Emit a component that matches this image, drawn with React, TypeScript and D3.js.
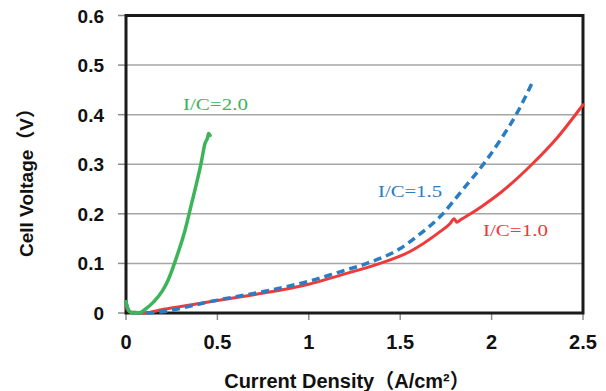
import React from "react";
import * as d3 from "d3";

// I/C = 1.0 (red, solid)
const icOneX = [0, 0.02, 0.1, 0.2, 0.3, 0.5, 0.7, 0.9, 1.0, 1.17, 1.39, 1.554, 1.718, 1.772, 1.795, 1.81, 1.83, 1.88, 1.95, 2.05, 2.21, 2.36, 2.5];
const icOneY = [0.012, 0.002, 0, 0.007, 0.013, 0.025, 0.037, 0.05, 0.058, 0.076, 0.1, 0.124, 0.164, 0.18, 0.19, 0.183, 0.188, 0.199, 0.216, 0.243, 0.296, 0.354, 0.42];

// I/C = 1.5 (blue, dashed)
const icOneHalfX = [0, 0.02, 0.1, 0.5, 0.9, 1.0, 1.17, 1.317, 1.5, 1.6, 1.72, 1.845, 1.955, 2.046, 2.137, 2.228];
const icOneHalfY = [0.02, 0.003, 0, 0.026, 0.055, 0.064, 0.083, 0.1, 0.13, 0.157, 0.195, 0.25, 0.3, 0.348, 0.402, 0.469];

// I/C = 2.0 (green, solid)
const icTwoX = [0, 0.015, 0.04, 0.08, 0.1, 0.15, 0.2, 0.23, 0.277, 0.323, 0.359, 0.39, 0.414, 0.432, 0.445, 0.452, 0.46];
const icTwoY = [0.023, 0.005, 0, 0.001, 0.006, 0.022, 0.045, 0.066, 0.113, 0.167, 0.221, 0.268, 0.308, 0.342, 0.352, 0.362, 0.358];

const xTicks = [0, 0.5, 1, 1.5, 2, 2.5];
const xTickLabels = ["0", "0.5", "1", "1.5", "2", "2.5"];
const yTicks = [0, 0.1, 0.2, 0.3, 0.4, 0.5, 0.6];
const yTickLabels = ["0", "0.1", "0.2", "0.3", "0.4", "0.5", "0.6"];

const W = 606;
const H = 391;
const plot = { left: 126, right: 583, top: 15.5, bottom: 313 };

const x = d3.scaleLinear().domain([0, 2.5]).range([plot.left, plot.right]);
const y = d3.scaleLinear().domain([0, 0.6]).range([plot.bottom, plot.top]);

const line = d3
  .line<[number, number]>()
  .x((d) => x(d[0]))
  .y((d) => y(d[1]))
  .curve(d3.curveMonotoneX);

const zip = (xs: number[], ys: number[]): [number, number][] => xs.map((v, i) => [v, ys[i]]);

const series = [
  { name: "I/C=1.0", pts: zip(icOneX, icOneY), color: "#ee3a3a", dash: undefined as string | undefined, width: 3 },
  { name: "I/C=1.5", pts: zip(icOneHalfX, icOneHalfY), color: "#2a7cc3", dash: "8,5", width: 3.5 },
  { name: "I/C=2.0", pts: zip(icTwoX, icTwoY), color: "#3db45a", dash: undefined, width: 3.5 },
];

const labels = [
  { text: "I/C=2.0", x: 183, y: 109.5, len: 65, color: "#3db45a" },
  { text: "I/C=1.5", x: 378, y: 196.5, len: 64, color: "#2a7cc3" },
  { text: "I/C=1.0", x: 483, y: 236, len: 65, color: "#ee3a3a" },
];

const sans = "'Liberation Sans', Arial, 'Noto Sans CJK JP', sans-serif";
const serif = "'Liberation Serif', 'DejaVu Serif', serif";

export default function App() {
  return (
    <svg width={W} height={H} style={{ position: "absolute", left: 0, top: 0, background: "#fff" }}>
      {/* grid */}
      {yTicks.map((t) => (
        <line key={"g" + t} x1={plot.left} x2={plot.right} y1={y(t)} y2={y(t)} stroke="#a6a6a6" strokeWidth={1.5} />
      ))}
      {/* y ticks */}
      {yTicks.map((t) => (
        <line key={"yt" + t} x1={plot.left - 8} x2={plot.left} y1={y(t)} y2={y(t)} stroke="#8c8c8c" strokeWidth={1.5} />
      ))}
      {/* x ticks */}
      {xTicks.map((t) => (
        <line key={"xt" + t} x1={x(t)} x2={x(t)} y1={plot.bottom} y2={plot.bottom + 7} stroke="#8c8c8c" strokeWidth={1.5} />
      ))}
      {/* frame */}
      <rect
        x={plot.left}
        y={plot.top}
        width={plot.right - plot.left}
        height={plot.bottom - plot.top}
        fill="none"
        stroke="#1a1a1a"
        strokeWidth={3}
      />
      {/* series */}
      {series.map((s) => (
        <path
          key={s.name}
          d={line(s.pts) || ""}
          fill="none"
          stroke={s.color}
          strokeWidth={s.width}
          strokeDasharray={s.dash}
          strokeLinejoin="round"
          strokeLinecap={s.dash ? "butt" : "round"}
        />
      ))}
      {/* y tick labels */}
      {yTicks.map((t, i) => (
        <text
          key={"yl" + t}
          x={104}
          y={y(t) + 7}
          textAnchor="end"
          fontFamily={sans}
          fontWeight="bold"
          fontSize={19}
          fill="#111"
        >
          {yTickLabels[i]}
        </text>
      ))}
      {/* x tick labels */}
      {xTicks.map((t, i) => (
        <text
          key={"xl" + t}
          x={x(t)}
          y={349}
          textAnchor="middle"
          fontFamily={sans}
          fontWeight="bold"
          fontSize={20}
          fill="#111"
        >
          {xTickLabels[i]}
        </text>
      ))}
      {/* axis titles */}
      <text
        x={347}
        y={388}
        textAnchor="middle"
        fontFamily={sans}
        fontWeight="bold"
        fontSize={20}
        fill="#111"
      >
        Current Density（A/cm²）
      </text>
      <text
        transform="translate(33,178) rotate(-90)"
        textAnchor="middle"
        fontFamily={sans}
        fontWeight="bold"
        fontSize={19}
        fill="#111"
      >
        Cell Voltage（V）
      </text>
      {/* series labels */}
      {labels.map((l) => (
        <text
          key={l.text}
          x={l.x}
          y={l.y}
          fontFamily={serif}
          fontSize={17}
          textLength={l.len}
          lengthAdjust="spacingAndGlyphs"
          fill={l.color}
        >
          {l.text}
        </text>
      ))}
    </svg>
  );
}
